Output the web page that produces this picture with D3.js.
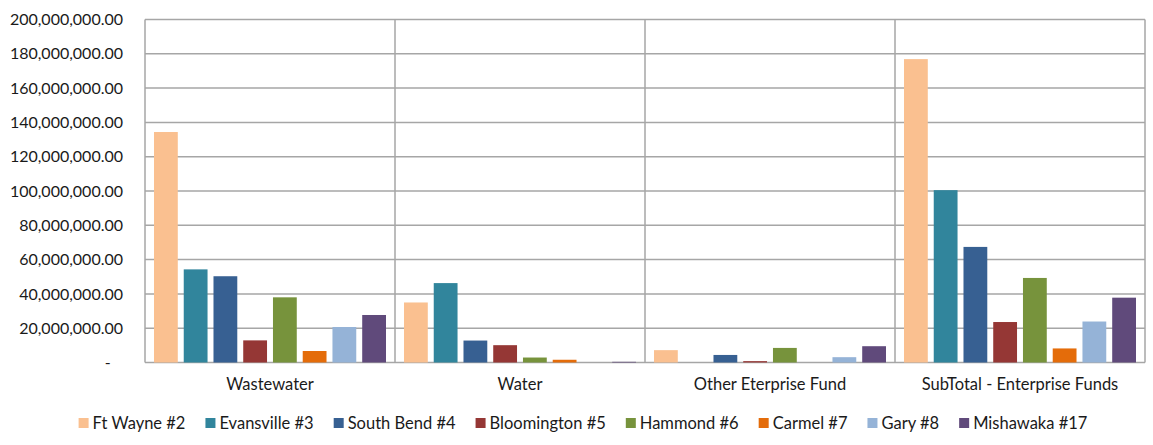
<!DOCTYPE html>
<html>
<head>
<meta charset="utf-8">
<script src="https://cdn.jsdelivr.net/npm/d3@7"></script>
<style>
  body { margin: 0; background: #fff; }
  text { font-family: Lato, "Open Sans", sans-serif; fill: #1a1a1a; }
</style>
</head>
<body>
<svg id="chart" width="1153" height="445"></svg>
<script>
var categories = ['Wastewater', 'Water', 'Other Eterprise Fund', 'SubTotal - Enterprise Funds'];
var seriesNames = ['Ft Wayne #2', 'Evansville #3', 'South Bend #4', 'Bloomington #5', 'Hammond #6', 'Carmel #7', 'Gary #8', 'Mishawaka #17'];
var seriesColors = ['#FAC090', '#31859C', '#376092', '#953735', '#77933C', '#E46C0A', '#95B3D7', '#604A7B'];

// values per series, in category order (dollars)
var ftWayne    = [134400000, 35000000, 7200000, 176900000];
var evansville = [54300000, 46300000, 0, 100500000];
var southBend  = [50300000, 12800000, 4400000, 67400000];
var bloomington= [12900000, 10100000, 800000, 23600000];
var hammond    = [38000000, 2900000, 8500000, 49300000];
var carmel     = [6700000, 1600000, 0, 8200000];
var gary       = [20700000, 0, 3100000, 23900000];
var mishawaka  = [27700000, 400000, 9500000, 37800000];
var seriesValues = [ftWayne, evansville, southBend, bloomington, hammond, carmel, gary, mishawaka];

var yTicks = [0, 20000000, 40000000, 60000000, 80000000, 100000000, 120000000, 140000000, 160000000, 180000000, 200000000];

var marginLeft = 145;
var marginTop = 19.5;
var width = 1000;
var height = 343;

var svg = d3.select('#chart');
var graph = svg.append('g')
  .attr('transform', 'translate(' + marginLeft + ',' + marginTop + ')');

var xScale = d3.scaleBand()
  .domain(categories)
  .range([0, width]);

var xInner = d3.scaleBand()
  .domain(seriesNames)
  .range([9, xScale.bandwidth() - 9])
  .paddingInner(0.2);

var yScale = d3.scaleLinear()
  .domain([0, 200000000])
  .range([height, 0]);

var fmt = d3.format(',.2f');

// horizontal gridlines
graph.append('g')
  .selectAll('line')
  .data(yTicks)
  .enter().append('line')
  .attr('x1', 0).attr('x2', width)
  .attr('y1', function(d){ return yScale(d); })
  .attr('y2', function(d){ return yScale(d); })
  .attr('stroke', '#a6a6a6')
  .attr('stroke-width', 1.5);

// vertical category lines
graph.append('g')
  .selectAll('line')
  .data(categories.concat(['end']))
  .enter().append('line')
  .attr('x1', function(d, i){ return i * xScale.step(); })
  .attr('x2', function(d, i){ return i * xScale.step(); })
  .attr('y1', 0).attr('y2', height)
  .attr('stroke', '#a6a6a6')
  .attr('stroke-width', 1.5);

// bars
var groups = graph.append('g')
  .selectAll('g')
  .data(seriesNames)
  .enter().append('g')
  .attr('fill', function(d, i){ return seriesColors[i]; });

groups.selectAll('rect')
  .data(function(d, i){
    return seriesValues[i].map(function(v, j){ return {series: d, cat: categories[j], value: v}; });
  })
  .enter().append('rect')
  .attr('x', function(d){ return xScale(d.cat) + xInner(d.series); })
  .attr('width', xInner.bandwidth())
  .attr('y', function(d){ return yScale(d.value); })
  .attr('height', function(d){ return height - yScale(d.value); });

// y axis labels
var yAxisGen = d3.axisLeft(yScale)
  .tickValues(yTicks)
  .tickSize(0)
  .tickPadding(22)
  .tickFormat(function(d){ return d === 0 ? '-   ' : fmt(d); });

var yAxis = graph.append('g').call(yAxisGen);
yAxis.select('.domain').remove();
yAxis.selectAll('text')
  .attr('font-size', 16)
  .style('white-space', 'pre')
  .style('font-family', 'Lato, sans-serif')
  .attr('fill', '#1a1a1a');

// x axis labels
var xAxisGen = d3.axisBottom(xScale).tickSize(0).tickPadding(16);
var xAxis = graph.append('g')
  .attr('transform', 'translate(0,' + height + ')')
  .call(xAxisGen);
xAxis.select('.domain').remove();
xAxis.selectAll('text')
  .attr('font-size', 16.5)
  .style('font-family', 'Lato, sans-serif')
  .attr('fill', '#1a1a1a');

// legend
var legend = svg.append('g').attr('transform', 'translate(0,423)');
var items = legend.selectAll('g')
  .data(seriesNames)
  .enter().append('g');

items.append('rect')
  .attr('width', 10).attr('height', 10)
  .attr('y', -5)
  .attr('fill', function(d, i){ return seriesColors[i]; });

items.append('text')
  .attr('x', 14)
  .attr('dy', '0.35em')
  .attr('font-size', 16.5)
  .text(function(d){ return d; });

var widths = [];
items.each(function(){
  widths.push(14 + d3.select(this).select('text').node().getComputedTextLength());
});
var gap = 20;
var total = d3.sum(widths) + gap * (widths.length - 1);
var xPos = 583 - total / 2;
items.attr('transform', function(d, i){
  var t = 'translate(' + xPos + ',0)';
  xPos += widths[i] + gap;
  return t;
});
</script>
</body>
</html>
